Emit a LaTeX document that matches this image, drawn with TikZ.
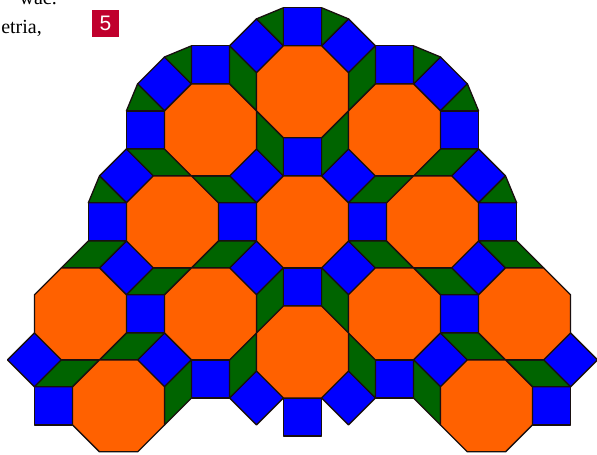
\documentclass[tikz,border=0pt]{standalone}
\usepackage{fontspec}
\setmainfont{Liberation Serif}
\newfontfamily\boxfont{Liberation Sans}
\definecolor{octo}{RGB}{255,97,0}
\definecolor{sqb}{RGB}{0,0,255}
\definecolor{rhg}{RGB}{0,100,0}
\definecolor{edgecol}{RGB}{25,15,15}
\definecolor{boxred}{RGB}{192,0,45}
\tikzset{
  tile/.style={draw=edgecol, line width=1.3pt, line join=round},
  oct/.style={tile, fill=octo},
  sqr/.style={tile, fill=sqb},
  rho/.style={tile, fill=rhg},
  txt/.style={anchor=base east, inner sep=0pt, font=\fontsize{20}{24}\selectfont}
}
\newcommand\Oct[2]{\draw[oct,shift={(#1,#2)}] (-0.5,-1.2071) -- (0.5,-1.2071) -- (1.2071,-0.5) -- (1.2071,0.5) -- (0.5,1.2071) -- (-0.5,1.2071) -- (-1.2071,0.5) -- (-1.2071,-0.5) -- cycle;}
\newcommand\Sq[2]{\draw[sqr,shift={(#1,#2)}] (-0.5,-0.5) rectangle (0.5,0.5);}
\newcommand\Dm[2]{\draw[sqr,shift={(#1,#2)}] (-0.7071,0) -- (0,-0.7071) -- (0.7071,0) -- (0,0.7071) -- cycle;}
\newcommand\Rh[4]{\draw[rho] #1 -- #2 -- #3 -- #4 -- cycle;}
\newcommand\Tr[3]{\draw[rho] #1 -- #2 -- #3 -- cycle;}
\newcommand\HalfTiles{%
  % axis squares
  \Sq{-2.4142}{-0.7071}
  \Sq{-4.1213}{1}
  \Sq{-1.7071}{3.4142}
  \Sq{-5.1213}{3.4142}
  \Sq{-4.1213}{5.8284}
  \Sq{-2.4142}{7.5355}
  \Sq{-6.5355}{8.2426}
  % diamonds
  \Dm{-1.2071}{-1.2071}
  \Dm{-3.6213}{-0.2071}
  \Dm{-1.2071}{2.2071}
  \Dm{-4.6213}{2.2071}
  \Dm{-4.6213}{4.6213}
  \Dm{-1.2071}{4.6213}
  \Dm{-7.0355}{7.0355}
  \Dm{-3.6213}{7.0355}
  \Dm{-1.2071}{8.0355}
  % rhombi
  \Rh{(-1.2071,0.5)}{(-1.2071,-0.5)}{(-1.9142,-1.2071)}{(-1.9142,-0.2071)}
  \Rh{(-1.2071,0.5)}{(-0.5,1.2071)}{(-0.5,2.2071)}{(-1.2071,1.5)}
  \Rh{(-2.9142,2.2071)}{(-1.9142,2.2071)}{(-1.2071,2.9142)}{(-2.2071,2.9142)}
  \Rh{(-2.9142,2.2071)}{(-3.6213,1.5)}{(-4.6213,1.5)}{(-3.9142,2.2071)}
  \Rh{(-2.9142,4.6213)}{(-3.9142,4.6213)}{(-4.6213,5.3284)}{(-3.6213,5.3284)}
  \Rh{(-2.9142,4.6213)}{(-2.2071,3.9142)}{(-1.2071,3.9142)}{(-1.9142,4.6213)}
  \Rh{(-4.6213,3.9142)}{(-5.6213,3.9142)}{(-6.3284,4.6213)}{(-5.3284,4.6213)}
  \Rh{(-5.3284,7.0355)}{(-6.3284,7.0355)}{(-7.0355,7.7426)}{(-6.0355,7.7426)}
  \Rh{(-5.3284,7.0355)}{(-4.6213,6.3284)}{(-3.6213,6.3284)}{(-4.3284,7.0355)}
  \Rh{(-3.6213,7.7426)}{(-3.6213,8.7426)}{(-2.9142,8.0355)}{(-2.9142,7.0355)}
  \Rh{(-1.2071,6.3284)}{(-1.2071,5.3284)}{(-0.5,4.6213)}{(-0.5,5.6213)}
  \Rh{(-1.2071,6.3284)}{(-1.9142,7.0355)}{(-1.9142,8.0355)}{(-1.2071,7.3284)}
  % boundary half-rhombi
  \Tr{(-0.5,-1.2071)}{(-0.5,-2.2071)}{(-1.2071,-1.9142)}
  \Tr{(-2.9142,-0.2071)}{(-2.9142,-1.2071)}{(-3.6213,-0.9142)}
  \Tr{(-3.6213,0.5)}{(-4.6213,0.5)}{(-4.3284,-0.2071)}
  \Tr{(-4.6213,2.9142)}{(-5.6213,2.9142)}{(-5.3284,2.2071)}
  % octagons
  \Oct{-2.4142}{1}
  \Oct{-3.4142}{3.4142}
  \Oct{-5.8284}{5.8284}
  \Oct{-2.4142}{5.8284}
  \Oct{-4.8284}{8.2426}
}
\begin{document}
\begin{tikzpicture}[x=1pt,y=-1pt]
\useasboundingbox (0,0) rectangle (597,455);
\fill[white] (0,0) rectangle (597,455);
\node[txt] (t1) at (57,5) {wać.};
\node[txt] (t2) at (42,33) {etria,};
\node[fill=boxred, minimum width=27pt, minimum height=27pt, inner sep=0pt, text=white,
      font=\boxfont\fontsize{21}{21}\selectfont] (n5) at (105.5,23.5) {5};
\begin{scope}[xshift=302.5pt, yshift=-91.8pt, x=38.1pt, y=-38.1pt]
  \HalfTiles
  \begin{scope}[xscale=-1]
    \HalfTiles
  \end{scope}
  % central column
  \Sq{0}{-1.7071}
  \Sq{0}{1.7071}
  \Sq{0}{5.1213}
  \Sq{0}{8.5355}
  \Oct{0}{0}
  \Oct{0}{3.4142}
  \Oct{0}{6.8284}
\end{scope}
\end{tikzpicture}
\end{document}
